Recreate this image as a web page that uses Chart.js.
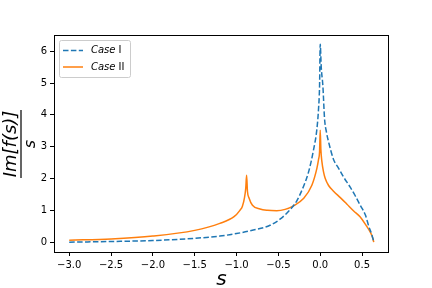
<!DOCTYPE html>
<html>
<head>
<meta charset="utf-8">
<script src="https://cdn.jsdelivr.net/npm/chart.js@4.4.1/dist/chart.umd.min.js"></script>
<style>
  html, body { margin: 0; padding: 0; background: #fff; }
  #wrap { width: 432px; height: 288px; position: relative; }
</style>
</head>
<body>
<div id="wrap"><canvas id="chartIm"></canvas></div>
<script>
// ── Datos ────────────────────────────────────────────────────────────────────
var sCase1 = [-3.0, -2.5, -2.0, -1.5, -1.2, -1.0, -0.8, -0.6, -0.476, -0.36, -0.28, -0.2, -0.14, -0.08, -0.04, -0.02, -0.008, 0.0,
              0.012, 0.032, 0.051, 0.075, 0.1, 0.159, 0.22, 0.278, 0.36, 0.42, 0.48, 0.54, 0.58, 0.615, 0.64];
var imCase1 = [0.0, 0.02, 0.05, 0.12, 0.19, 0.27, 0.38, 0.53, 0.73, 1.02, 1.3, 1.75, 2.2, 2.9, 3.55, 4.2, 4.9, 6.22,
               5.5, 4.9, 3.9, 3.45, 3.15, 2.6, 2.32, 2.05, 1.72, 1.45, 1.15, 0.85, 0.5, 0.25, 0.02];

var sCase2 = [-3.0, -2.5, -2.0, -1.5, -1.2, -1.03, -0.96, -0.93, -0.905, -0.89, -0.88, -0.87, -0.85, -0.81, -0.72, -0.63, -0.52, -0.42,
              -0.32, -0.2, -0.1, -0.04, -0.02, -0.008, 0.0, 0.008, 0.02, 0.04, 0.06, 0.1, 0.159, 0.24, 0.317, 0.4, 0.476, 0.55, 0.595, 0.625, 0.64];
var imCase2 = [0.06, 0.1, 0.19, 0.37, 0.59, 0.8, 1.0, 1.13, 1.4, 1.7, 2.1, 1.6, 1.38, 1.16, 1.04, 1.0, 0.99, 1.03,
               1.14, 1.37, 1.79, 2.32, 2.6, 2.84, 3.52, 2.9, 2.53, 2.2, 2.0, 1.78, 1.6, 1.4, 1.2, 0.98, 0.8, 0.52, 0.33, 0.15, 0.0];

var xTicks = [-3.0, -2.5, -2.0, -1.5, -1.0, -0.5, 0.0, 0.5];
var yTicks = [0, 1, 2, 3, 4, 5, 6];
var seriesNames = ['Case', 'Case'];
var seriesSuffix = ['I', 'II'];

var AZUL = '#1f77b4';
var NARANJA = '#ff7f0e';
var FUENTE = "'DejaVu Sans', sans-serif";

function puntos(xs, ys) {
    return xs.map(function (x, i) { return { x: x, y: ys[i] }; });
}

function fmtMenos(v, dec) {
    var t = Math.abs(v).toFixed(dec);
    return v < 0 ? '\u2212' + t : t;
}

// ── Plugin: marco, leyenda y títulos de ejes ─────────────────────────────────
var decorado = {
    id: 'decorado',
    afterDraw: function (chart) {
        var ctx = chart.ctx;
        var a = chart.chartArea;
        ctx.save();

        // marco
        ctx.strokeStyle = '#000';
        ctx.lineWidth = 1;
        ctx.strokeRect(Math.round(a.left) + 0.5, Math.round(a.top) + 0.5,
                       Math.round(a.right - a.left) - 1, Math.round(a.bottom - a.top));

        // leyenda
        var lx = a.left + 5, ly = a.top + 5, lw = 71, lh = 37;
        ctx.fillStyle = 'rgba(255,255,255,0.8)';
        ctx.strokeStyle = '#cccccc';
        ctx.beginPath();
        ctx.roundRect(lx + 0.5, ly + 0.5, lw, lh, 2);
        ctx.fill();
        ctx.stroke();

        var filas = [
            { color: AZUL, dash: [5.5, 2.4] },
            { color: NARANJA, dash: [] }
        ];
        filas.forEach(function (f, i) {
            var yy = ly + 10.5 + i * 16.5;
            ctx.strokeStyle = f.color;
            ctx.lineWidth = 1.5;
            ctx.setLineDash(f.dash);
            ctx.beginPath();
            ctx.moveTo(lx + 4, yy);
            ctx.lineTo(lx + 24, yy);
            ctx.stroke();
            ctx.setLineDash([]);

            ctx.fillStyle = '#000';
            ctx.textBaseline = 'middle';
            ctx.textAlign = 'left';
            ctx.font = 'italic 10px ' + FUENTE;
            ctx.fillText(seriesNames[i], lx + 32, yy);
            var w = ctx.measureText(seriesNames[i]).width;
            ctx.font = '10px ' + FUENTE;
            ctx.fillText(seriesSuffix[i], lx + 32 + w + 3, yy);
        });

        // título eje x
        ctx.fillStyle = '#000';
        ctx.font = 'italic 20px ' + FUENTE;
        ctx.textAlign = 'center';
        ctx.textBaseline = 'alphabetic';
        ctx.fillText('s', (a.left + a.right) / 2, 285);

        // título eje y (fracción)
        ctx.translate(21, 144);
        ctx.rotate(-Math.PI / 2);
        ctx.font = 'italic 18px ' + FUENTE;
        ctx.textAlign = 'center';
        ctx.fillText('Im[f(s)]', 0, -5);
        ctx.fillRect(-34, -0.6, 68, 1.2);
        ctx.font = 'italic 16px ' + FUENTE;
        ctx.fillText('s', 0, 13.5);

        ctx.restore();
    }
};

var ejeBase = {
    type: 'linear',
    border: { display: false },
    grid: { display: true, drawOnChartArea: false, drawTicks: true, tickLength: 4, tickWidth: 1, tickColor: '#000' },
    ticks: { color: '#000', font: { family: FUENTE, size: 10 }, padding: 3, autoSkip: false, maxRotation: 0 }
};

new Chart(document.getElementById('chartIm'), {
    type: 'scatter',
    data: {
        datasets: [
            {
                label: 'Case I',
                data: puntos(sCase1, imCase1),
                showLine: true,
                borderColor: AZUL,
                borderWidth: 1.5,
                borderDash: [5.5, 2.4],
                pointRadius: 0,
                cubicInterpolationMode: 'monotone',
                fill: false
            },
            {
                label: 'Case II',
                data: puntos(sCase2, imCase2),
                showLine: true,
                borderColor: NARANJA,
                borderWidth: 1.5,
                pointRadius: 0,
                cubicInterpolationMode: 'monotone',
                fill: false
            }
        ]
    },
    options: {
        responsive: true,
        maintainAspectRatio: false,
        animation: false,
        devicePixelRatio: 1,
        layout: { padding: { left: 0, top: 35, right: 43, bottom: 0 } },
        plugins: { legend: { display: false }, tooltip: { enabled: false } },
        scales: {
            x: Object.assign({}, ejeBase, {
                min: -3.182, max: 0.822,
                afterFit: function (s) { s.height = 36; },
                afterBuildTicks: function (s) { s.ticks = xTicks.map(function (v) { return { value: v }; }); },
                ticks: Object.assign({}, ejeBase.ticks, { callback: function (v) { return fmtMenos(v, 1); } })
            }),
            y: Object.assign({}, ejeBase, {
                min: -0.31, max: 6.51,
                afterFit: function (s) { s.width = 54; },
                afterBuildTicks: function (s) { s.ticks = yTicks.map(function (v) { return { value: v }; }); },
                ticks: Object.assign({}, ejeBase.ticks, { callback: function (v) { return String(v); } })
            })
        }
    },
    plugins: [decorado]
});
</script>
</body>
</html>
